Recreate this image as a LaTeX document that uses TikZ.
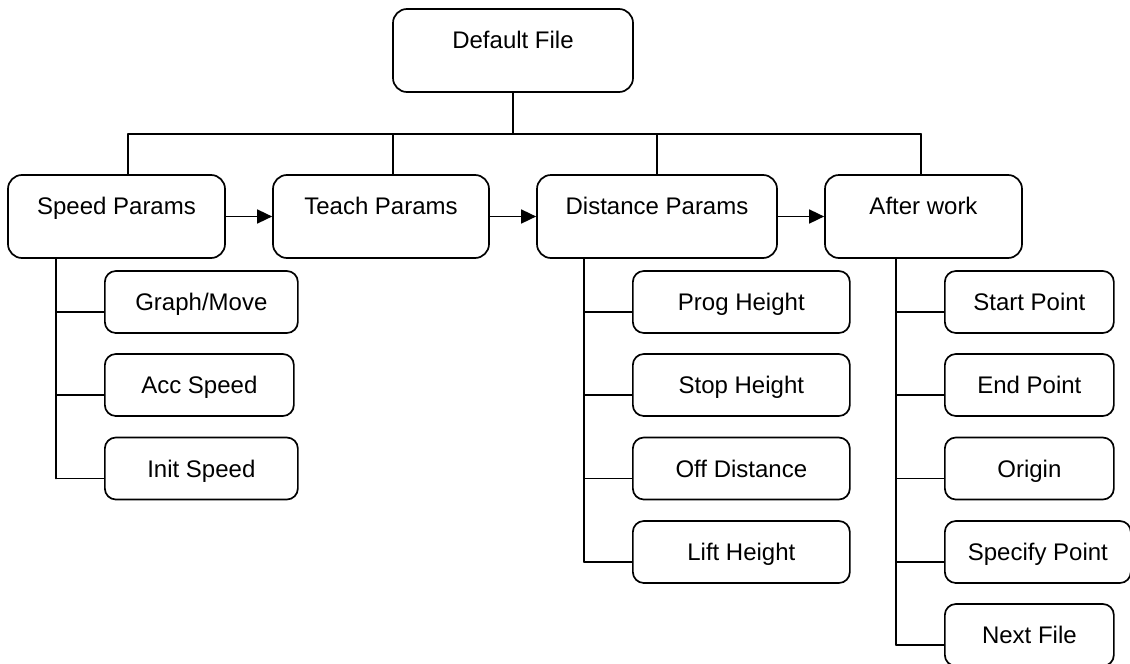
\documentclass[tikz,border=0pt]{standalone}
\usepackage{fontspec}
\setmainfont{Liberation Sans}
\usetikzlibrary{arrows.meta}
\begin{document}
\begin{tikzpicture}[x=1pt, y=-1pt, line cap=round, line join=round,
  box/.style={draw, line width=1.7pt, rounded corners=14pt, inner sep=0pt,
    font=\fontsize{24}{28}\selectfont},
  topbox/.style={box, minimum height=83pt, text height=17pt, text depth=22pt},
  subbox/.style={box, rounded corners=11pt, minimum height=62pt, anchor=west,
    text height=17pt, text depth=0pt},
  wire/.style={line width=1.6pt},
  flow/.style={wire, -{Triangle[length=15pt,width=14pt]}}]
\useasboundingbox (0,0) rectangle (1130,664);
% ---- root and main row ----
\node[topbox, minimum width=240pt] (deffile) at (513,50.5) {Default File};
\node[topbox, minimum width=217pt] (speed) at (116.5,216.5) {Speed Params};
\node[topbox, minimum width=216pt] (teach) at (381,216.5) {Teach Params};
\node[topbox, minimum width=240pt] (dist) at (657,216.5) {Distance Params};
\node[topbox, minimum width=197pt] (after) at (923.5,216.5) {After work};
% ---- bus from the root ----
\coordinate (busS) at (128,134);
\coordinate (busT) at (393,134);
\coordinate (busD) at (657,134);
\coordinate (busA) at (921,134);
\draw[wire] (deffile.south) -- (deffile.south |- busS);
\draw[wire] (busS) -- (busA);
\foreach \c/\n in {busS/speed, busT/teach, busD/dist, busA/after}
  \draw[wire] (\c) -- (\c |- \n.north);
% ---- order of the main row ----
\draw[flow] (speed.east) -- (teach.west);
\draw[flow] (teach.east) -- (dist.west);
\draw[flow] (dist.east) -- (after.west);
% ---- sub items ----
\coordinate (spS) at ([xshift=49pt]speed.south west);
\coordinate (spD) at ([xshift=48pt]dist.south west);
\coordinate (spA) at ([xshift=72pt]after.south west);
\foreach \sp/\n/\x/\y/\w/\lab in {
  spS/gm/104/302/193/{Graph/Move}, spS/acc/104/385/189/Acc Speed,
  spS/init/104/468.5/193/Init Speed,
  spD/prog/632/302/217/Prog Height, spD/stop/632/385/217/Stop Height,
  spD/off/632/468.5/217/Off Distance, spD/lift/632/552/217/Lift Height,
  spA/start/944/302/169/Start Point, spA/endpt/944/385/169/End Point,
  spA/origin/944/468.5/169/Origin, spA/spec/944/552/186/Specify Point,
  spA/next/944/635/169/Next File} {
  \node[subbox, minimum width=\w pt] (\n) at (\x,\y) {\lab};
  \coordinate (\n-tap) at ([yshift=-10pt]\n.west);
  \draw[wire] (\n-tap -| \sp) -- (\n-tap);
}
\draw[wire] (spS) -- (init-tap -| spS);
\draw[wire] (spD) -- (lift-tap -| spD);
\draw[wire] (spA) -- (next-tap -| spA);
\end{tikzpicture}
\end{document}
